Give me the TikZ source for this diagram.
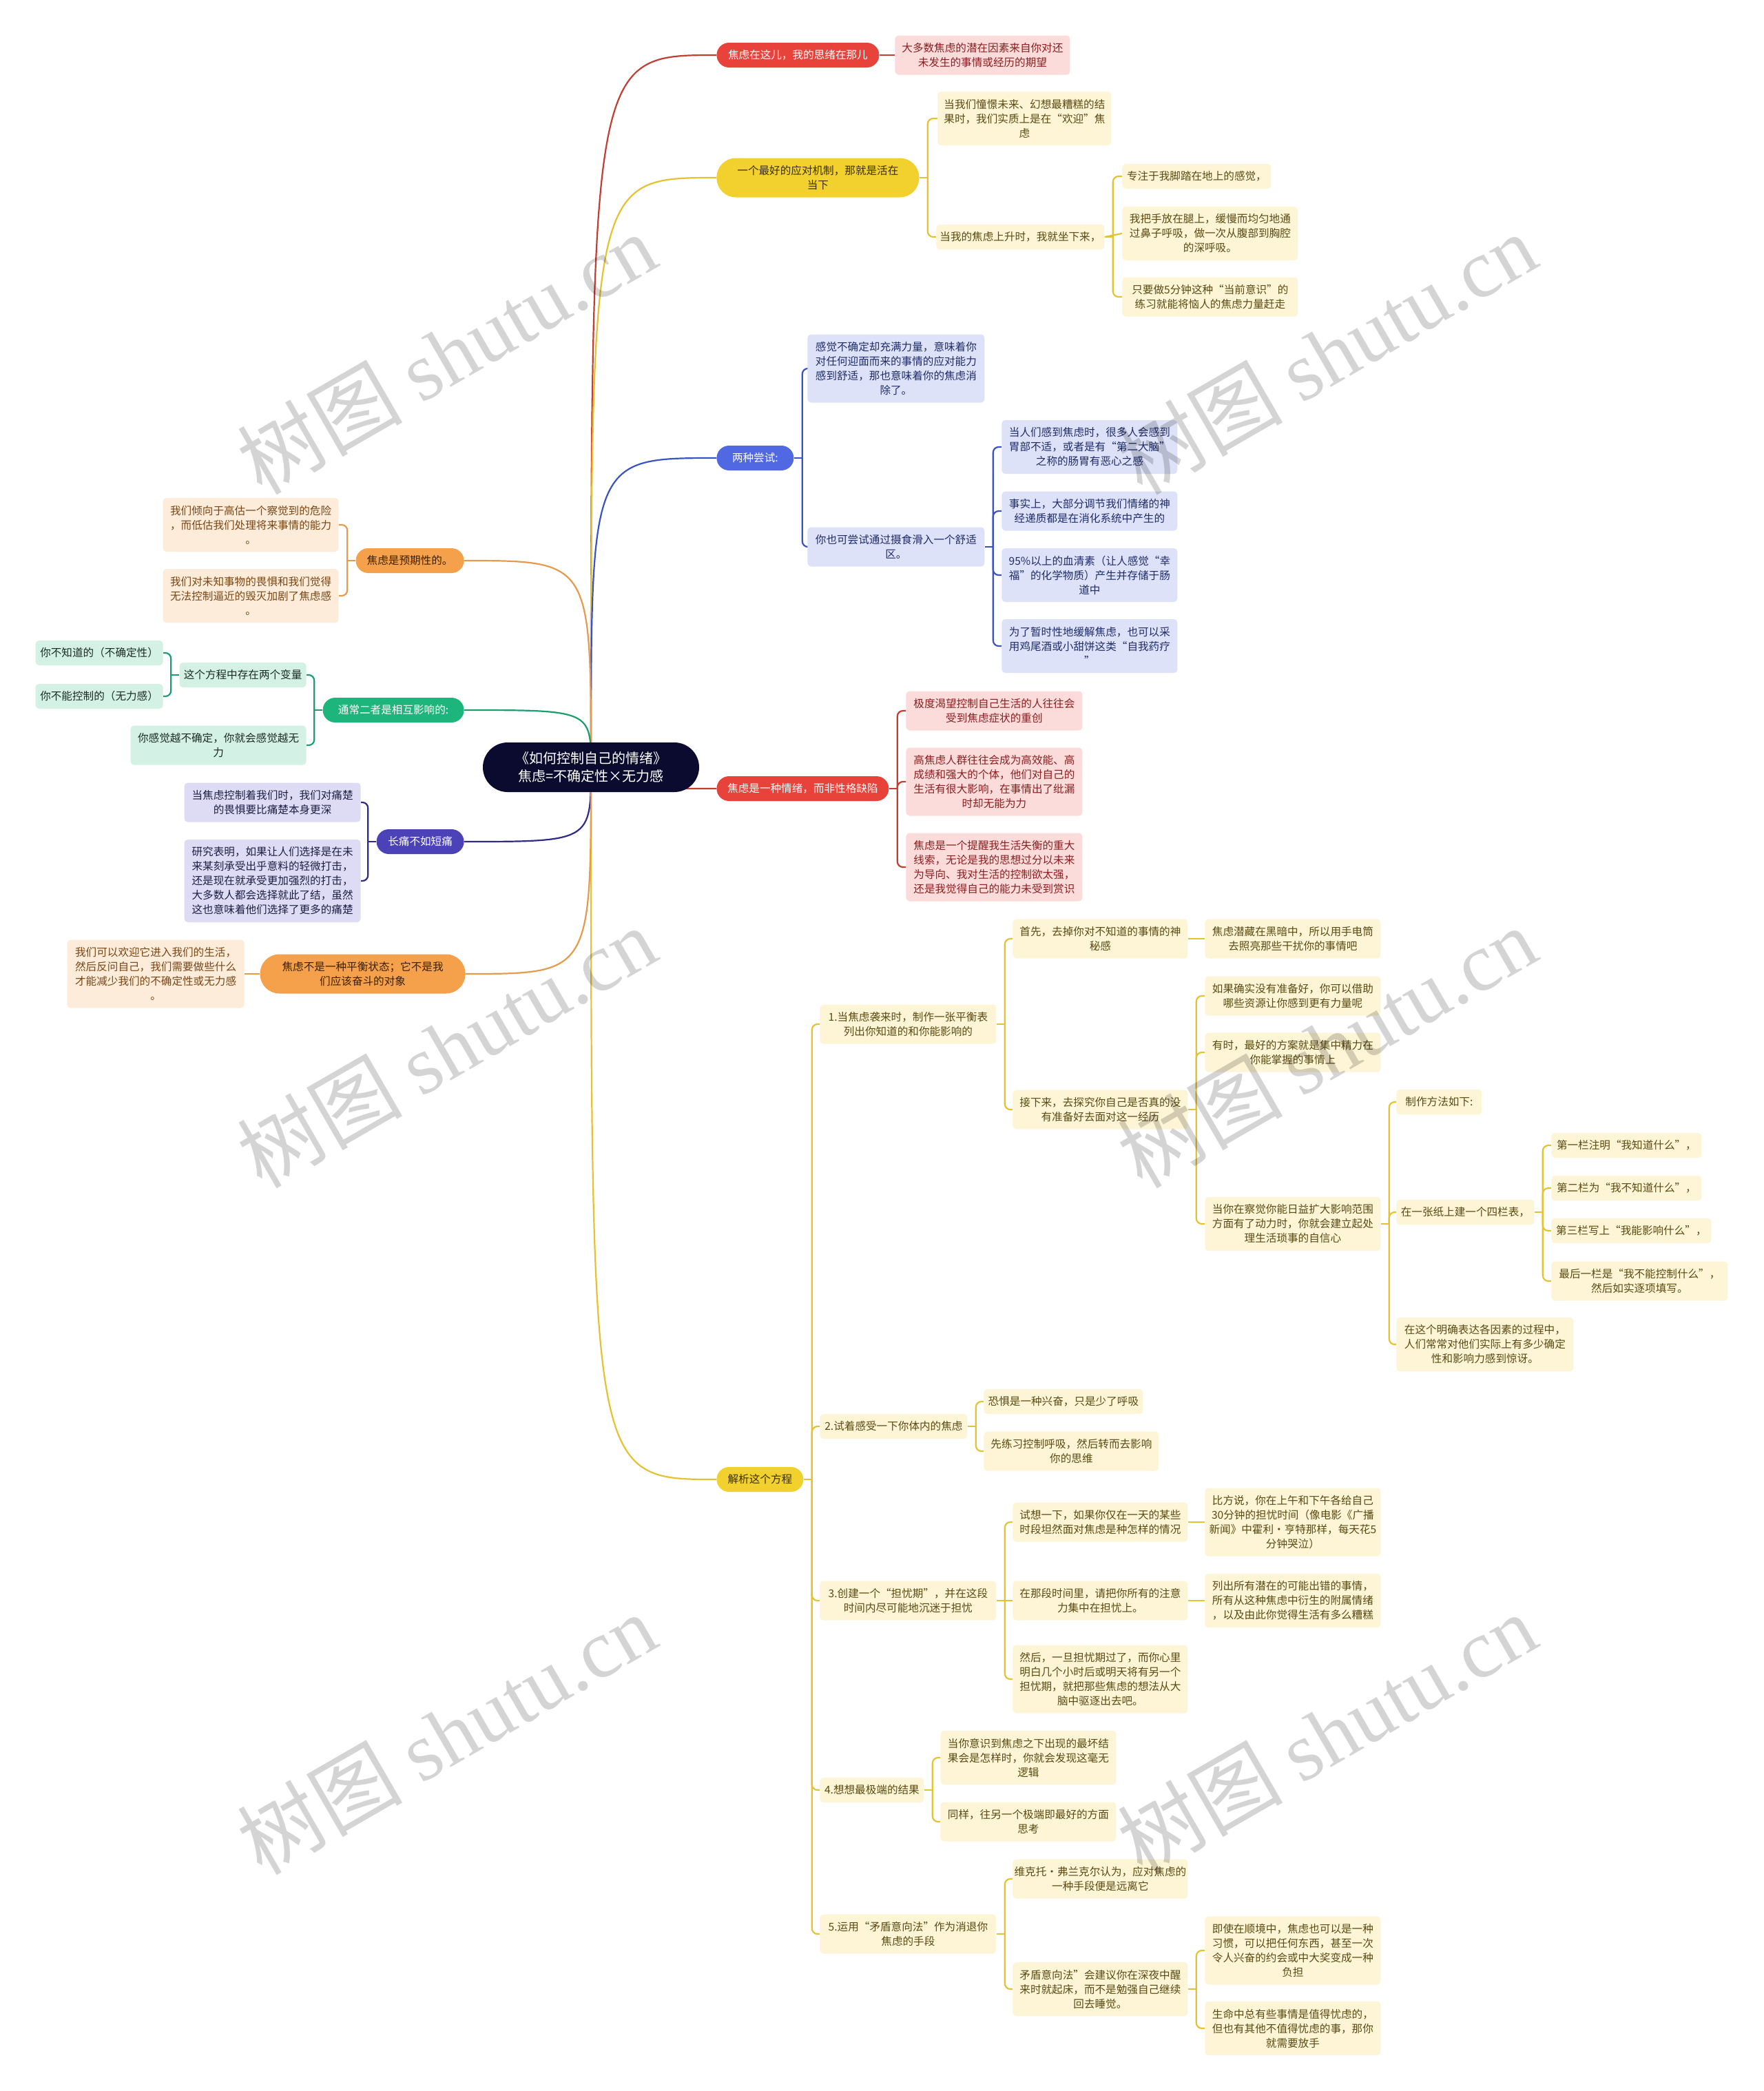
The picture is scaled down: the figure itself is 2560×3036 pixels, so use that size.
\documentclass[tikz,border=0pt]{standalone}
\usepackage{fontspec}
\setmainfont{Noto Sans CJK SC}
\newfontfamily\wmlat{Liberation Serif}
\usetikzlibrary{calc}
\pgfdeclarelayer{background}
\pgfdeclarelayer{paper}
\pgfsetlayers{paper,background,main}

\definecolor{cCenter}{HTML}{0B0B2F}
\definecolor{cRed}{HTML}{E8433B}
\definecolor{cRedL}{HTML}{C23D33}
\definecolor{cPink}{HTML}{FCDBDB}
\definecolor{cPinkT}{HTML}{8B1E1E}
\definecolor{cYel}{HTML}{F2D12E}
\definecolor{cYelL}{HTML}{E5C232}
\definecolor{cYelB}{HTML}{FDF5D5}
\definecolor{cYelT}{HTML}{5A4A12}
\definecolor{cYelPT}{HTML}{3A3000}
\definecolor{cBlue}{HTML}{5068E2}
\definecolor{cBlueL}{HTML}{3A52C4}
\definecolor{cBlueB}{HTML}{DDE2F8}
\definecolor{cBlueT}{HTML}{1E2C6A}
\definecolor{cOra}{HTML}{F5A04B}
\definecolor{cOraL}{HTML}{E59A4C}
\definecolor{cOraB}{HTML}{FDECDA}
\definecolor{cOraT}{HTML}{7A4512}
\definecolor{cOraPT}{HTML}{3A2000}
\definecolor{cGrn}{HTML}{1DB57B}
\definecolor{cGrnL}{HTML}{1A9E6E}
\definecolor{cGrnB}{HTML}{D3F2E5}
\definecolor{cGrnT}{HTML}{1E2A24}
\definecolor{cPur}{HTML}{4C42B8}
\definecolor{cPurL}{HTML}{2E2A86}
\definecolor{cPurB}{HTML}{DEDCF4}
\definecolor{cPurT}{HTML}{1E1E44}

\tikzset{
  every node/.style={inner sep=0pt, align=center},
  tx/.style={font=\fontsize{7.8pt}{10.5pt}\selectfont},
  rgt/.style={anchor=west},
  lft/.style={anchor=east},
  boxs/.style={tx, rounded corners=2.5pt},
  pill/.style={tx, rounded corners=9pt},
  pilltwo/.style={tx, rounded corners=14pt},
  redp/.style={fill=cRed, text=white},
  yelp/.style={fill=cYel, text=cYelPT},
  bluep/.style={fill=cBlue, text=white},
  orap/.style={fill=cOra, text=cOraPT},
  grnp/.style={fill=cGrn, text=white},
  purp/.style={fill=cPur, text=white},
  pinkb/.style={boxs, fill=cPink, text=cPinkT},
  yelb/.style={boxs, fill=cYelB, text=cYelT},
  blueb/.style={boxs, fill=cBlueB, text=cBlueT},
  orab/.style={boxs, fill=cOraB, text=cOraT},
  grnb/.style={boxs, fill=cGrnB, text=cGrnT},
  purb/.style={boxs, fill=cPurB, text=cPurT},
  lnRed/.style={draw=cRedL, line width=1.1pt},
  lnYel/.style={draw=cYelL, line width=1.1pt},
  lnBlue/.style={draw=cBlueL, line width=1.1pt},
  lnOra/.style={draw=cOraL, line width=1.1pt},
  lnGrn/.style={draw=cGrnL, line width=1.1pt},
  lnPur/.style={draw=cPurL, line width=1.1pt},
  wmark/.style={font=\fontsize{60pt}{60pt}\selectfont, text=black, opacity=0.17, rotate=30}
}

\newcommand\bx[7]{\node[#6, minimum width={#4*0.5pt}, minimum height={(21*#5+15)*0.5pt}] (#1) at (#2,#3) {#7};}
\newcommand\rc[3]{\draw[#3] (#1.east) -- ++(12,0); \draw[#3,rounded corners=4pt] ($(#1.east)+(12,0)$) |- (#2.west);}
\newcommand\lc[3]{\draw[#3] (#1.west) -- ++(-12,0); \draw[#3,rounded corners=4pt] ($(#1.west)+(-12,0)$) |- (#2.east);}
\newcommand\rs[3]{\draw[#3] (#1.east) -- (#2.west);}
\newcommand\ls[3]{\draw[#3] (#1.west) -- (#2.east);}
\newcommand\cc[2]{\draw[#2] (C.center) .. controls (C.center |- #1) and (C.center |- #1) .. (#1);}

\begin{document}
\begin{tikzpicture}[x=0.5pt,y=-0.5pt]
\useasboundingbox (0,0) rectangle (2560,3036);
\begin{pgfonlayer}{paper}
\fill[white] (0,0) rectangle (2560,3036);
\end{pgfonlayer}

% center
\node[fill=cCenter, text=white, rounded corners=18pt, minimum width=157pt, minimum height=36pt,
  font=\fontsize{10pt}{13.3pt}\selectfont] (C) at (858,1114) {《如何控制自己的情绪》\\焦虑=不确定性×无力感};

% ---- right branch 1
\bx{R1}{1040}{80}{236}{1}{rgt,pill,redp}{焦虑在这儿，我的思绪在那儿}
\bx{R1a}{1299}{80}{254}{2}{rgt,pinkb}{大多数焦虑的潜在因素来自你对还\\未发生的事情或经历的期望}

% ---- right branch 2
\bx{R2}{1040}{258}{294}{2}{rgt,pilltwo,yelp}{一个最好的应对机制，那就是活在\\当下}
\bx{R2a}{1361}{172}{252}{3}{rgt,yelb}{当我们憧憬未来、幻想最糟糕的结\\果时，我们实质上是在“欢迎”焦\\虑}
\bx{R2b}{1359}{344}{244}{1}{rgt,yelb}{当我的焦虑上升时，我就坐下来，}
\bx{R2b1}{1629}{256}{216}{1}{rgt,yelb}{专注于我脚踏在地上的感觉，}
\bx{R2b2}{1629}{339}{255}{3}{rgt,yelb}{我把手放在腿上，缓慢而均匀地通\\过鼻子呼吸，做一次从腹部到胸腔\\的深呼吸。}
\bx{R2b3}{1629}{431}{255}{2}{rgt,yelb}{只要做5分钟这种“当前意识”的\\练习就能将恼人的焦虑力量赶走}

% ---- right branch 3
\bx{R3}{1040}{665}{112}{1}{rgt,pill,bluep}{两种尝试:}
\bx{R3a}{1172}{535}{257}{4}{rgt,blueb}{感觉不确定却充满力量，意味着你\\对任何迎面而来的事情的应对能力\\感到舒适，那也意味着你的焦虑消\\除了。}
\bx{R3b}{1172}{794}{257}{2}{rgt,blueb}{你也可尝试通过摄食滑入一个舒适\\区。}
\bx{R3b1}{1454}{649}{255}{3}{rgt,blueb}{当人们感到焦虑时，很多人会感到\\胃部不适，或者是有“第二大脑”\\之称的肠胃有恶心之感}
\bx{R3b2}{1454}{742}{255}{2}{rgt,blueb}{事实上，大部分调节我们情绪的神\\经递质都是在消化系统中产生的}
\bx{R3b3}{1454}{835}{255}{3}{rgt,blueb}{95\%以上的血清素（让人感觉“幸\\福”的化学物质）产生并存储于肠\\道中}
\bx{R3b4}{1454}{938}{255}{3}{rgt,blueb}{为了暂时性地缓解焦虑，也可以采\\用鸡尾酒或小甜饼这类“自我药疗\\”}

% ---- right branch 4
\bx{R4}{1040}{1145}{250}{1}{rgt,pill,redp}{焦虑是一种情绪，而非性格缺陷}
\bx{R4a}{1315}{1032}{256}{2}{rgt,pinkb}{极度渴望控制自己生活的人往往会\\受到焦虑症状的重创}
\bx{R4b}{1315}{1135}{256}{4}{rgt,pinkb}{高焦虑人群往往会成为高效能、高\\成绩和强大的个体，他们对自己的\\生活有很大影响，在事情出了纰漏\\时却无能为力}
\bx{R4c}{1315}{1259}{256}{4}{rgt,pinkb}{焦虑是一个提醒我生活失衡的重大\\线索，无论是我的思想过分以未来\\为导向、我对生活的控制欲太强，\\还是我觉得自己的能力未受到赏识}

% ---- right branch 5
\bx{R5}{1040}{2148}{126}{1}{rgt,pill,yelp}{解析这个方程}
\bx{S1}{1190}{1487}{256}{2}{rgt,yelb}{1.当焦虑袭来时，制作一张平衡表\\列出你知道的和你能影响的}
\bx{S1a}{1470}{1363}{254}{2}{rgt,yelb}{首先，去掉你对不知道的事情的神\\秘感}
\bx{S1a1}{1749}{1363}{255}{2}{rgt,yelb}{焦虑潜藏在黑暗中，所以用手电筒\\去照亮那些干扰你的事情吧}
\bx{S1b}{1470}{1611}{254}{2}{rgt,yelb}{接下来，去探究你自己是否真的没\\有准备好去面对这一经历}
\bx{S1b1}{1749}{1446}{255}{2}{rgt,yelb}{如果确实没有准备好，你可以借助\\哪些资源让你感到更有力量呢}
\bx{S1b2}{1749}{1528}{255}{2}{rgt,yelb}{有时，最好的方案就是集中精力在\\你能掌握的事情上}
\bx{S1b3}{1749}{1777}{255}{3}{rgt,yelb}{当你在察觉你能日益扩大影响范围\\方面有了动力时，你就会建立起处\\理生活琐事的自信心}
\bx{T1}{2027}{1600}{124}{1}{rgt,yelb}{制作方法如下:}
\bx{T2}{2027}{1760}{200}{1}{rgt,yelb}{在一张纸上建一个四栏表，}
\bx{U1}{2252}{1663}{218}{1}{rgt,yelb}{第一栏注明“我知道什么”，}
\bx{U2}{2252}{1725}{218}{1}{rgt,yelb}{第二栏为“我不知道什么”，}
\bx{U3}{2252}{1787}{232}{1}{rgt,yelb}{第三栏写上“我能影响什么”，}
\bx{U4}{2252}{1860}{256}{2}{rgt,yelb}{最后一栏是“我不能控制什么”，\\然后如实逐项填写。}
\bx{T3}{2027}{1952}{257}{3}{rgt,yelb}{在这个明确表达各因素的过程中，\\人们常常对他们实际上有多少确定\\性和影响力感到惊讶。}
\bx{S2}{1190}{2071}{214}{1}{rgt,yelb}{2.试着感受一下你体内的焦虑}
\bx{S2a}{1428}{2035}{231}{1}{rgt,yelb}{恐惧是一种兴奋，只是少了呼吸}
\bx{S2b}{1428}{2107}{254}{2}{rgt,yelb}{先练习控制呼吸，然后转而去影响\\你的思维}
\bx{S3}{1190}{2324}{256}{2}{rgt,yelb}{3.创建一个“担忧期”，并在这段\\时间内尽可能地沉迷于担忧}
\bx{S3a}{1470}{2210}{254}{2}{rgt,yelb}{试想一下，如果你仅在一天的某些\\时段坦然面对焦虑是种怎样的情况}
\bx{S3a1}{1749}{2210}{255}{4}{rgt,yelb}{比方说，你在上午和下午各给自己\\30分钟的担忧时间（像电影《广播\\新闻》中霍利·亨特那样，每天花5\\分钟哭泣）}
\bx{S3b}{1470}{2324}{254}{2}{rgt,yelb}{在那段时间里，请把你所有的注意\\力集中在担忧上。}
\bx{S3b1}{1749}{2324}{255}{3}{rgt,yelb}{列出所有潜在的可能出错的事情，\\所有从这种焦虑中衍生的附属情绪\\，以及由此你觉得生活有多么糟糕}
\bx{S3c}{1470}{2438}{254}{4}{rgt,yelb}{然后，一旦担忧期过了，而你心里\\明白几个小时后或明天将有另一个\\担忧期，就把那些焦虑的想法从大\\脑中驱逐出去吧。}
\bx{S4}{1190}{2599}{151}{1}{rgt,yelb}{4.想想最极端的结果}
\bx{S4a}{1365}{2552}{255}{3}{rgt,yelb}{当你意识到焦虑之下出现的最坏结\\果会是怎样时，你就会发现这毫无\\逻辑}
\bx{S4b}{1365}{2645}{255}{2}{rgt,yelb}{同样，往另一个极端即最好的方面\\思考}
\bx{S5}{1190}{2808}{256}{2}{rgt,yelb}{5.运用“矛盾意向法”作为消退你\\焦虑的手段}
\bx{S5a}{1470}{2728}{254}{2}{rgt,yelb}{维克托·弗兰克尔认为，应对焦虑的\\一种手段便是远离它}
\bx{S5b}{1470}{2888}{254}{3}{rgt,yelb}{矛盾意向法”会建议你在深夜中醒\\来时就起床，而不是勉强自己继续\\回去睡觉。}
\bx{S5b1}{1749}{2832}{255}{4}{rgt,yelb}{即使在顺境中，焦虑也可以是一种\\习惯，可以把任何东西，甚至一次\\令人兴奋的约会或中大奖变成一种\\负担}
\bx{S5b2}{1749}{2945}{255}{3}{rgt,yelb}{生命中总有些事情是值得忧虑的，\\但也有其他不值得忧虑的事，那你\\就需要放手}

% ---- left branches
\bx{L1}{674}{814}{157}{1}{lft,pill,orap}{焦虑是预期性的。}
\bx{L1a}{492}{762}{255}{3}{lft,orab}{我们倾向于高估一个察觉到的危险\\，而低估我们处理将来事情的能力\\。}
\bx{L1b}{492}{865}{255}{3}{lft,orab}{我们对未知事物的畏惧和我们觉得\\无法控制逼近的毁灭加剧了焦虑感\\。}
\bx{L2}{674}{1031}{205}{1}{lft,pill,grnp}{通常二者是相互影响的:}
\bx{L2a}{445}{980}{184}{1}{lft,grnb}{这个方程中存在两个变量}
\bx{L2a1}{237}{948}{185}{1}{lft,grnb}{你不知道的（不确定性）}
\bx{L2a2}{237}{1011}{185}{1}{lft,grnb}{你不能控制的（无力感）}
\bx{L2b}{445}{1082}{255}{2}{lft,grnb}{你感觉越不确定，你就会感觉越无\\力}
\bx{L3}{674}{1222}{127}{1}{lft,pill,purp}{长痛不如短痛}
\bx{L3a}{524}{1165}{256}{2}{lft,purb}{当焦虑控制着我们时，我们对痛楚\\的畏惧要比痛楚本身更深}
\bx{L3b}{524}{1279}{256}{5}{lft,purb}{研究表明，如果让人们选择是在未\\来某刻承受出乎意料的轻微打击，\\还是现在就承受更加强烈的打击，\\大多数人都会选择就此了结，虽然\\这也意味着他们选择了更多的痛楚}
\bx{L4}{676}{1414}{298}{2}{lft,pilltwo,orap}{焦虑不是一种平衡状态；它不是我\\们应该奋斗的对象}
\bx{L4a}{355}{1414}{257}{4}{lft,orab}{我们可以欢迎它进入我们的生活，\\然后反问自己，我们需要做些什么\\才能减少我们的不确定性或无力感\\。}

\begin{pgfonlayer}{background}
  \cc{R1.west}{lnRed}
  \cc{R2.west}{lnYel}
  \cc{R3.west}{lnBlue}
  \cc{R4.west}{lnRed}
  \cc{R5.west}{lnYel}
  \cc{L1.east}{lnOra}
  \cc{L2.east}{lnGrn}
  \cc{L3.east}{lnPur}
  \cc{L4.east}{lnOra}

  \rs{R1}{R1a}{lnRed}
  \rc{R2}{R2a}{lnYel}
  \rc{R2}{R2b}{lnYel}
  \rc{R2b}{R2b1}{lnYel}
  \rs{R2b}{R2b2}{lnYel}
  \rc{R2b}{R2b3}{lnYel}
  \rc{R3}{R3a}{lnBlue}
  \rc{R3}{R3b}{lnBlue}
  \rc{R3b}{R3b1}{lnBlue}
  \rc{R3b}{R3b2}{lnBlue}
  \rc{R3b}{R3b3}{lnBlue}
  \rc{R3b}{R3b4}{lnBlue}
  \rc{R4}{R4a}{lnRed}
  \rc{R4}{R4b}{lnRed}
  \rc{R4}{R4c}{lnRed}
  \rc{R5}{S1}{lnYel}
  \rc{R5}{S2}{lnYel}
  \rc{R5}{S3}{lnYel}
  \rc{R5}{S4}{lnYel}
  \rc{R5}{S5}{lnYel}
  \rc{S1}{S1a}{lnYel}
  \rc{S1}{S1b}{lnYel}
  \rs{S1a}{S1a1}{lnYel}
  \rc{S1b}{S1b1}{lnYel}
  \rc{S1b}{S1b2}{lnYel}
  \rc{S1b}{S1b3}{lnYel}
  \rc{S1b3}{T1}{lnYel}
  \rc{S1b3}{T2}{lnYel}
  \rc{S1b3}{T3}{lnYel}
  \rc{T2}{U1}{lnYel}
  \rc{T2}{U2}{lnYel}
  \rc{T2}{U3}{lnYel}
  \rc{T2}{U4}{lnYel}
  \rc{S2}{S2a}{lnYel}
  \rc{S2}{S2b}{lnYel}
  \rc{S3}{S3a}{lnYel}
  \rs{S3}{S3b}{lnYel}
  \rc{S3}{S3c}{lnYel}
  \rs{S3a}{S3a1}{lnYel}
  \rs{S3b}{S3b1}{lnYel}
  \rc{S4}{S4a}{lnYel}
  \rc{S4}{S4b}{lnYel}
  \rc{S5}{S5a}{lnYel}
  \rc{S5}{S5b}{lnYel}
  \rc{S5b}{S5b1}{lnYel}
  \rc{S5b}{S5b2}{lnYel}

  \lc{L1}{L1a}{lnOra}
  \lc{L1}{L1b}{lnOra}
  \lc{L2}{L2a}{lnGrn}
  \lc{L2}{L2b}{lnGrn}
  \lc{L2a}{L2a1}{lnGrn}
  \lc{L2a}{L2a2}{lnGrn}
  \lc{L3}{L3a}{lnPur}
  \lc{L3}{L3b}{lnPur}
  \ls{L4}{L4a}{lnOra}
\end{pgfonlayer}

% watermarks
\node[wmark] (W1) at (648,513) {树图 {\wmlat shutu.cn}};
\node[wmark] (W2) at (1926,513) {树图 {\wmlat shutu.cn}};
\node[wmark] (W3) at (648,1520) {树图 {\wmlat shutu.cn}};
\node[wmark] (W4) at (1926,1520) {树图 {\wmlat shutu.cn}};
\node[wmark] (W5) at (648,2517) {树图 {\wmlat shutu.cn}};
\node[wmark] (W6) at (1926,2517) {树图 {\wmlat shutu.cn}};
\end{tikzpicture}
\end{document}
